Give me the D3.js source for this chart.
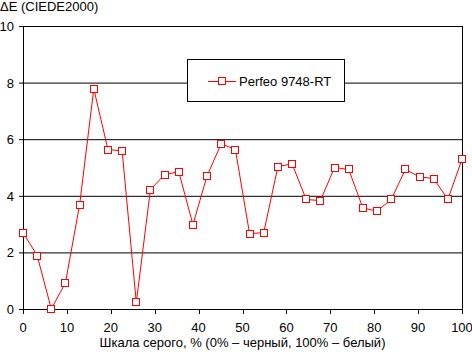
<!DOCTYPE html>
<html>
  <head>
    <title>Perfeo 9748-RT</title>
    <script type="text/javascript" src="https://d3js.org/d3.v7.min.js"></script>
    <style>
      body { margin: 0; background: #fff; }
      svg text { font-family: "Liberation Sans", Arial, sans-serif; font-size: 13px; fill: #000; }
    </style>
  </head>
  <body>
    <svg width="472" height="352" class="chart"></svg>

    <script type="text/javascript">
      // grey level, % (32 steps) and measured deltaE
      var grey = d3.range(32).map(function(i) { return i * 100 / 31; });
      var deltaE = [2.70, 1.89, 0.00, 0.93, 3.69, 7.78, 5.63, 5.59, 0.23, 4.22,
                    4.75, 4.85, 2.98, 4.71, 5.84, 5.63, 2.66, 2.70, 5.03, 5.13,
                    3.87, 3.83, 5.00, 4.93, 3.57, 3.46, 3.87, 4.93, 4.67, 4.61,
                    3.87, 5.29];
      var xTicks = [0, 10, 20, 30, 40, 50, 60, 70, 80, 90, 100];
      var yTicks = [0, 2, 4, 6, 8, 10];
      var seriesName = 'Perfeo 9748-RT';

      var svg = d3.select('svg.chart');
      var x = d3.scaleLinear().domain([0, 100]).range([23, 462]);
      var y = d3.scaleLinear().domain([0, 10]).range([309, 26]);

      // horizontal grid
      svg.append('g')
         .selectAll('line')
         .data(yTicks)
         .enter()
         .append('line')
         .attr('x1', 19).attr('x2', x(100))
         .attr('y1', function(d) { return y(d) + 0.5; })
         .attr('y2', function(d) { return y(d) + 0.5; })
         .attr('stroke', '#000');

      // left and right frame
      svg.append('line')
         .attr('x1', x(0) + 0.5).attr('x2', x(0) + 0.5)
         .attr('y1', y(10)).attr('y2', y(0) + 5)
         .attr('stroke', '#000');
      svg.append('line')
         .attr('x1', x(100) + 0.5).attr('x2', x(100) + 0.5)
         .attr('y1', y(10)).attr('y2', y(0) + 5)
         .attr('stroke', '#000');

      // x ticks
      svg.append('g')
         .selectAll('line')
         .data(xTicks)
         .enter()
         .append('line')
         .attr('x1', function(d) { return Math.round(x(d)) + 0.5; })
         .attr('x2', function(d) { return Math.round(x(d)) + 0.5; })
         .attr('y1', y(0)).attr('y2', y(0) + 5)
         .attr('stroke', '#000');

      svg.append('g')
         .selectAll('text')
         .data(xTicks)
         .enter()
         .append('text')
         .attr('x', function(d) { return x(d); })
         .attr('y', 332)
         .attr('text-anchor', 'middle')
         .text(function(d) { return d; });

      svg.append('g')
         .selectAll('text')
         .data(yTicks)
         .enter()
         .append('text')
         .attr('x', 14)
         .attr('y', function(d) { return y(d) + 5; })
         .attr('text-anchor', 'end')
         .text(function(d) { return d; });

      svg.append('text')
         .attr('x', 0).attr('y', 11)
         .text('ΔE (CIEDE2000)');

      svg.append('text')
         .attr('x', (x(0) + x(100)) / 2).attr('y', 347)
         .attr('text-anchor', 'middle')
         .text('Шкала серого, % (0% – черный, 100% – белый)');

      // series
      var line = d3.line()
                   .x(function(d, i) { return x(grey[i]); })
                   .y(function(d) { return y(d); });

      svg.append('path')
         .datum(deltaE)
         .attr('d', line)
         .attr('fill', 'none')
         .attr('stroke', '#ff0000')
         .attr('stroke-width', 1);

      svg.append('g')
         .selectAll('rect')
         .data(deltaE)
         .enter()
         .append('rect')
         .attr('x', function(d, i) { return Math.round(x(grey[i])) - 3.5; })
         .attr('y', function(d) { return Math.round(y(d)) - 3.5; })
         .attr('width', 7).attr('height', 7)
         .attr('fill', '#fff')
         .attr('stroke', '#ff0000')
         .attr('stroke-width', 1);

      // legend
      var legend = svg.append('g').attr('class', 'legend');
      legend.append('rect')
            .attr('x', 187.5).attr('y', 59.5)
            .attr('width', 157).attr('height', 42)
            .attr('fill', '#fff').attr('stroke', '#000');
      legend.append('line')
            .attr('x1', 208).attr('x2', 236)
            .attr('y1', 81.5).attr('y2', 81.5)
            .attr('stroke', '#ff0000');
      legend.append('rect')
            .attr('x', 218.5).attr('y', 77.5)
            .attr('width', 7).attr('height', 7)
            .attr('fill', '#fff').attr('stroke', '#ff0000');
      legend.append('text')
            .attr('x', 239).attr('y', 86)
            .text(seriesName);
    </script>
  </body>
</html>
